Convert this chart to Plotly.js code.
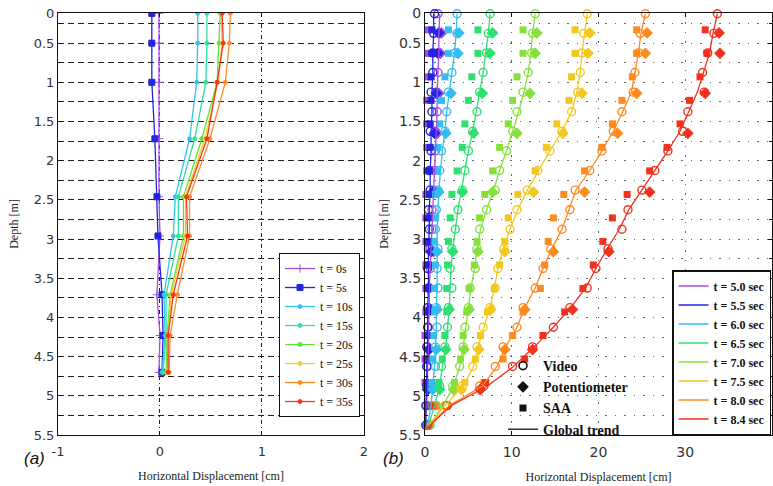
<!DOCTYPE html>
<html>
<head>
<meta charset="utf-8">
<script src="https://cdn.plot.ly/plotly-3.0.1.min.js"></script>
<style>
  html, body { margin: 0; padding: 0; background: #fff; }
  #chart { width: 773px; height: 486px; }
</style>
</head>
<body>
<div id="chart"></div>
<script>
// ---------- (a) inclinometer profiles, horizontal displacement [cm] vs depth [m] ----------
const depthA = [0.12, 0.5, 1.0, 1.72, 2.46, 2.96, 3.71, 4.23, 4.70];
const labelsA = ['t = 0s', 't = 5s', 't = 10s', 't = 15s', 't = 20s', 't = 25s', 't = 30s', 't = 35s'];
const dispA_t0  = [-0.01, -0.01, -0.01, -0.01, -0.01, 0.00, -0.03, 0.00, -0.01];
const dispA_t5  = [-0.08, -0.08, -0.08, -0.05, -0.03, -0.02, 0.02, 0.03, 0.02];
const dispA_t10 = [0.37, 0.37, 0.36, 0.29, 0.15, 0.13, 0.04, 0.05, 0.02];
const dispA_t15 = [0.46, 0.46, 0.45, 0.34, 0.18, 0.18, 0.06, 0.06, 0.03];
const dispA_t20 = [0.59, 0.58, 0.56, 0.41, 0.23, 0.23, 0.10, 0.07, 0.06];
const dispA_t25 = [0.60, 0.61, 0.57, 0.44, 0.25, 0.25, 0.11, 0.08, 0.07];
const dispA_t30 = [0.69, 0.68, 0.64, 0.49, 0.29, 0.29, 0.17, 0.10, 0.09];
const dispA_t35 = [0.61, 0.62, 0.56, 0.46, 0.26, 0.27, 0.13, 0.08, 0.08];
const ticksA = [-1, 0, 1, 2];
const tickTextA = ['-1', '0', '1', '2'];

// ---------- (b) video, potentiometer, SAA and global trend ----------
const labelsB = ['t = 5.0 sec', 't = 5.5 sec', 't = 6.0 sec', 't = 6.5 sec',
                 't = 7.0 sec', 't = 7.5 sec', 't = 8.0 sec', 't = 8.4 sec'];
const videoDepth = [0.125, 0.375, 0.625, 0.875, 1.125, 1.375, 1.625, 1.875, 2.125, 2.375, 2.625,
                    2.875, 3.125, 3.375, 3.625, 3.875, 4.125, 4.375, 4.625, 4.875, 5.125, 5.375];
const trendDepth = [0.125, 0.375, 0.625, 0.875, 1.125, 1.375, 1.625, 1.875, 2.125, 2.375, 2.625,
                    2.875, 3.125, 3.375, 3.625, 3.875, 4.125, 4.375, 4.625, 4.875, 5.125, 5.375, 5.42];
const saaDepth = [0.33, 0.63, 0.93, 1.23, 1.53, 1.83, 2.13, 2.43, 2.73, 3.03, 3.33, 3.63, 3.93,
                  4.23, 4.53, 4.83, 5.13];
const potDepth = [0.37, 0.63, 1.14, 1.65, 2.40, 3.16, 3.90, 4.41, 4.92];
const ticksB = [0, 10, 20, 30, 40];

const trend_50 = [1.7, 1.6, 1.6, 1.5, 1.4, 1.4, 1.3, 1.2, 1.1, 1.0, 0.9, 0.8, 0.7, 0.6, 0.5, 0.5, 0.4, 0.4, 0.3, 0.3, 0.2, 0.1, 0.0];
const trend_55 = [1.0, 1.0, 0.9, 0.9, 0.8, 0.8, 0.7, 0.7, 0.6, 0.6, 0.5, 0.5, 0.4, 0.4, 0.4, 0.3, 0.3, 0.3, 0.2, 0.2, 0.1, 0.1, 0.0];
const trend_60 = [3.7, 3.6, 3.4, 3.1, 2.8, 2.5, 2.3, 2.0, 1.8, 1.6, 1.5, 1.4, 1.4, 1.4, 1.4, 1.3, 1.3, 1.2, 1.1, 0.9, 0.7, 0.3, 0.1];
const trend_65 = [7.5, 7.3, 7.0, 6.7, 6.3, 5.9, 5.5, 5.0, 4.6, 4.2, 3.8, 3.5, 3.2, 3.0, 2.9, 2.8, 2.6, 2.4, 2.0, 1.7, 1.1, 0.4, 0.1];
const trend_70 = [12.7, 12.4, 12.2, 11.9, 11.4, 10.8, 10.1, 9.4, 8.6, 7.9, 7.1, 6.4, 6.0, 5.7, 5.3, 5.0, 4.7, 4.4, 4.0, 3.3, 2.1, 0.5, 0.1];
const trend_75 = [18.7, 18.4, 18.1, 17.9, 17.5, 16.9, 15.8, 14.4, 13.1, 11.8, 10.7, 9.8, 9.0, 8.4, 8.0, 7.5, 6.8, 6.1, 5.6, 4.4, 2.3, 0.5, 0.1];
const trend_80 = [25.4, 24.9, 24.6, 24.2, 23.8, 22.8, 21.7, 20.4, 19.0, 17.4, 16.6, 15.8, 14.6, 13.6, 12.7, 11.5, 10.6, 9.3, 8.3, 6.6, 2.8, 0.6, 0.1];
const trend_84 = [33.7, 33.2, 32.8, 32.1, 31.4, 30.4, 29.4, 28.0, 26.5, 25.0, 23.5, 22.4, 21.0, 19.7, 18.5, 16.8, 14.8, 12.6, 10.2, 7.2, 3.0, 0.6, 0.1];

const video_50 = [1.5, 1.7, 1.5, 1.5, 1.3, 1.4, 1.2, 1.2, 1.1, 1.0, 0.8, 0.8, 0.6, 0.6, 0.5, 0.4, 0.4, 0.3, 0.3, 0.3, 0.2, 0.1];
const video_55 = [1.1, 1.0, 0.9, 0.9, 0.7, 0.8, 0.6, 0.7, 0.5, 0.6, 0.4, 0.5, 0.4, 0.3, 0.4, 0.3, 0.3, 0.2, 0.2, 0.2, 0.1, 0.1];
const video_60 = [3.7, 3.7, 3.5, 3.1, 2.7, 2.5, 2.3, 1.9, 1.7, 1.5, 1.3, 1.2, 1.5, 1.4, 1.5, 1.3, 1.4, 1.2, 1.2, 0.9, 0.8, 0.3];
const video_65 = [7.5, 7.3, 7.1, 6.7, 6.3, 6.0, 5.5, 5.0, 4.6, 4.3, 3.8, 3.5, 3.1, 2.9, 3.1, 2.7, 2.6, 2.3, 1.9, 1.7, 1.3, 0.6];
const video_70 = [12.7, 12.4, 12.3, 11.9, 11.3, 10.6, 10.1, 9.4, 8.6, 8.1, 7.1, 6.3, 6.0, 5.8, 5.2, 5.0, 4.6, 4.4, 4.0, 3.2, 2.3, 0.5];
const video_75 = [18.7, 18.3, 18.1, 17.9, 17.6, 16.9, 15.8, 14.4, 13.0, 11.8, 10.6, 9.8, 9.1, 8.4, 8.1, 7.5, 6.7, 6.0, 5.5, 4.3, 2.4, 0.4];
const video_80 = [25.4, 24.8, 24.6, 24.2, 24.0, 22.7, 21.7, 20.4, 19.0, 17.3, 16.7, 15.8, 14.5, 13.6, 12.7, 11.3, 10.6, 9.0, 8.1, 6.3, 2.6, 0.4];
const video_84 = [33.7, 33.3, 32.6, 32.0, 32.2, 30.3, 29.7, 28.0, 26.5, 25.0, 23.4, 22.7, 21.1, 19.7, 18.7, 16.7, 14.8, 12.4, 10.1, 6.8, 2.5, 0.3];

const saa_50 = [0.3, 0.3, 0.3, 0.2, 0.2, 0.2, 0.2, 0.1, 0.1, 0.1, 0.1, 0.1, 0.1, 0.0, 0.0, 0.0, 0.3];
const saa_55 = [0.8, 0.8, 0.7, 0.7, 0.6, 0.6, 0.5, 0.5, 0.4, 0.4, 0.4, 0.3, 0.3, 0.3, 0.2, 0.2, 0.5];
const saa_60 = [2.7, 2.7, 2.3, 1.9, 1.7, 1.5, 1.4, 1.2, 1.2, 1.1, 1.2, 1.1, 1.1, 1.0, 0.9, 0.8, 1.0];
const saa_65 = [6.1, 6.1, 5.4, 5.0, 4.6, 4.3, 3.7, 3.1, 2.9, 2.7, 2.6, 2.5, 2.5, 2.3, 2.0, 1.6, 1.3];
const saa_70 = [11.3, 11.3, 10.6, 10.1, 9.6, 8.6, 7.8, 6.9, 6.3, 6.0, 5.7, 5.1, 4.8, 4.4, 4.1, 3.4, 1.2];
const saa_75 = [17.3, 17.3, 16.9, 16.6, 15.2, 14.0, 12.7, 10.7, 9.6, 9.2, 8.6, 8.0, 7.2, 6.4, 5.8, 4.6, 1.0];
const saa_80 = [24.4, 24.4, 23.9, 22.7, 21.6, 20.4, 18.4, 16.0, 14.8, 14.2, 13.8, 13.3, 11.3, 10.1, 9.0, 6.8, 1.2];
const saa_84 = [32.3, 32.5, 31.7, 30.5, 29.4, 27.9, 25.9, 23.3, 21.6, 20.5, 19.4, 18.2, 16.1, 13.6, 11.5, 7.0, 0.8];

const pot_50 = [1.9, 1.8, 1.6, 1.4, 1.2, 1.0, 0.7, 0.5, 0.3];
const pot_55 = [1.6, 1.5, 1.3, 1.1, 0.9, 0.7, 0.5, 0.4, 0.3];
const pot_60 = [3.9, 3.8, 3.0, 2.4, 1.6, 1.4, 1.4, 1.3, 0.9];
const pot_65 = [7.8, 7.5, 6.6, 5.6, 4.3, 3.2, 2.8, 2.4, 1.7];
const pot_70 = [12.9, 12.7, 12.1, 10.6, 7.8, 6.1, 5.1, 4.5, 3.3];
const pot_75 = [19.0, 18.8, 18.1, 15.9, 12.5, 9.2, 7.6, 6.2, 4.2];
const pot_80 = [25.6, 25.4, 24.4, 22.2, 18.4, 14.8, 11.5, 9.2, 6.3];
const pot_84 = [33.9, 34.0, 32.3, 30.3, 25.9, 21.2, 17.0, 12.4, 6.4];

// depth tick labels; the top edge of the frame carries the "0" label
const depthTicks = [0.115, 0.5, 1, 1.5, 2, 2.5, 3, 3.5, 4, 4.5, 5, 5.5];
const depthTickText = ['0', '0.5', '1', '1.5', '2', '2.5', '3', '3.5', '4', '4.5', '5', '5.5'];
const depthMinor = [0.25, 0.75, 1.25, 1.75, 2.25, 2.75, 3.25, 3.75, 4.25, 4.75, 5.25];

// ---------- styling ----------
const colorsA = ['#a64de6', '#2424e0', '#33c4ee', '#2fe0a0', '#5ee23a', '#f2cc2a', '#ff8a2a', '#f5361e'];
const colorsB = ['#a64de6', '#2424e0', '#33bdf0', '#2fe070', '#86e03a', '#f2c81e', '#ff8a1e', '#f0321e'];
const symbolsA = ['cross-thin-open', 'square', 'circle', 'circle', 'circle', 'circle', 'circle', 'circle'];
const sizesA = [6, 6, 4, 4, 4, 4, 4, 4];

const serif = 'Liberation Serif, Times New Roman, serif';
const sans = 'DejaVu Sans, Verdana, sans-serif';

const dispA = [dispA_t0, dispA_t5, dispA_t10, dispA_t15, dispA_t20, dispA_t25, dispA_t30, dispA_t35];
const trendB = [trend_50, trend_55, trend_60, trend_65, trend_70, trend_75, trend_80, trend_84];
const videoB = [video_50, video_55, video_60, video_65, video_70, video_75, video_80, video_84];
const saaB = [saa_50, saa_55, saa_60, saa_65, saa_70, saa_75, saa_80, saa_84];
const potB = [pot_50, pot_55, pot_60, pot_65, pot_70, pot_75, pot_80, pot_84];

const traces = [];

// (a) profiles
dispA.forEach((xs, i) => {
  traces.push({
    type: 'scatter', mode: 'lines+markers', x: xs, y: depthA,
    name: labelsA[i], legend: 'legend',
    line: { color: colorsA[i], width: 1.3 },
    marker: { color: colorsA[i], symbol: symbolsA[i], size: sizesA[i],
              line: { color: colorsA[i], width: 1 } },
    xaxis: 'x', yaxis: 'y', cliponaxis: true
  });
});

// (b) measurements, drawn underneath the trend lines
for (let i = 0; i < 8; i++) {
  traces.push({
    type: 'scatter', mode: 'markers', x: saaB[i], y: saaDepth, showlegend: false,
    marker: { color: colorsB[i], symbol: 'square', size: 7 },
    xaxis: 'x2', yaxis: 'y2', cliponaxis: false
  });
  traces.push({
    type: 'scatter', mode: 'markers', x: potB[i], y: potDepth, showlegend: false,
    marker: { color: colorsB[i], symbol: 'diamond', size: 9 },
    xaxis: 'x2', yaxis: 'y2', cliponaxis: false
  });
  traces.push({
    type: 'scatter', mode: 'markers', x: videoB[i], y: videoDepth, showlegend: false,
    marker: { color: colorsB[i], symbol: 'circle-open', size: 8,
              line: { color: colorsB[i], width: 1.4 } },
    xaxis: 'x2', yaxis: 'y2', cliponaxis: false
  });
}
for (let i = 0; i < 8; i++) {
  traces.push({
    type: 'scatter', mode: 'lines', x: trendB[i], y: trendDepth,
    name: labelsB[i], legend: 'legend2',
    line: { color: colorsB[i], width: 1.3 },
    xaxis: 'x2', yaxis: 'y2'
  });
}

// key for the measurement symbols
const keyItems = [
  { name: 'Video', mode: 'markers', marker: { symbol: 'circle-open', size: 8, color: '#111', line: { width: 1.6, color: '#111' } } },
  { name: 'Potentiometer', mode: 'markers', marker: { symbol: 'diamond', size: 9, color: '#111' } },
  { name: 'SAA', mode: 'markers', marker: { symbol: 'square', size: 7, color: '#111' } },
  { name: 'Global trend', mode: 'lines', line: { color: '#111', width: 1.3 } }
];
keyItems.forEach(k => {
  traces.push(Object.assign({ type: 'scatter', x: [null], y: [null], legend: 'legend3',
                              xaxis: 'x2', yaxis: 'y2' }, k));
});

const axisBase = {
  showline: true, linecolor: '#111', linewidth: 1, mirror: 'ticks',
  ticks: 'inside', ticklen: 4, tickcolor: '#111', zeroline: false,
  tickfont: { family: sans, size: 13, color: '#333' }
};

const layout = {
  width: 773, height: 486,
  margin: { l: 0, r: 0, t: 0, b: 0 },
  paper_bgcolor: '#fff', plot_bgcolor: '#fff',
  xaxis: Object.assign({}, axisBase, {
    domain: [0.0750, 0.4709], range: [-1, 2], tickmode: 'array', tickvals: ticksA, ticktext: tickTextA,
    showgrid: true, gridcolor: '#222', gridwidth: 1, griddash: '4px,3px,1px,3px',
    anchor: 'y', ticklabelstandoff: 4,
    title: { text: 'Horizontal Displacement [cm]', standoff: 13,
             font: { family: serif, size: 12, color: '#222' } }
  }),
  yaxis: Object.assign({}, axisBase, {
    domain: [0.1049, 0.9733], range: [5.5, 0.115], tickmode: 'array',
    tickvals: depthTicks, ticktext: depthTickText,
    showgrid: true, gridcolor: '#222', gridwidth: 1, griddash: '6px,4px',
    minor: { tickmode: 'array', tickvals: depthMinor, showgrid: true, gridcolor: '#222',
             gridwidth: 1, griddash: '6px,4px', ticks: 'inside', ticklen: 3, tickcolor: '#111' },
    anchor: 'x',
    title: { text: 'Depth [m]', standoff: 12, font: { family: serif, size: 12, color: '#222' } }
  }),
  xaxis2: Object.assign({}, axisBase, {
    domain: [0.5498, 0.9987], range: [0, 40], tickmode: 'array', tickvals: ticksB,
    showgrid: true, gridcolor: '#666', gridwidth: 1, griddash: '1.5px,8px',
    anchor: 'y2', ticklabelstandoff: 4,
    tickfont: { family: sans, size: 14, color: '#333' },
    title: { text: 'Horizontal Displacement [cm]', standoff: 13,
             font: { family: serif, size: 12, color: '#222' } }
  }),
  yaxis2: Object.assign({}, axisBase, {
    domain: [0.1049, 0.9733], range: [5.5, 0.115], tickmode: 'array',
    tickvals: depthTicks, ticktext: depthTickText,
    showgrid: true, gridcolor: '#666', gridwidth: 1, griddash: '1.5px,8px',
    minor: { tickmode: 'array', tickvals: depthMinor, showgrid: true, gridcolor: '#666',
             gridwidth: 1, griddash: '1.5px,8px', ticks: 'inside', ticklen: 3, tickcolor: '#111' },
    anchor: 'x2',
    tickfont: { family: sans, size: 14, color: '#333' },
    title: { text: 'Depth [m]', standoff: 7, font: { family: serif, size: 12, color: '#222' } }
  }),
  legend: {
    x: 0.4657, xanchor: 'right', y: 0.4794, yanchor: 'top',
    bgcolor: '#fff', bordercolor: '#111', borderwidth: 1,
    font: { family: serif, size: 12, color: '#111' }, tracegroupgap: 0
  },
  legend2: {
    x: 0.9975, xanchor: 'right', y: 0.1049, yanchor: 'bottom',
    bgcolor: '#fff', bordercolor: '#111', borderwidth: 1.5,
    font: { family: serif, size: 12, color: '#111', weight: 'bold' }, tracegroupgap: 0
  },
  legend3: {
    x: 0.6507, xanchor: 'left', y: 0.2798, yanchor: 'top',
    bgcolor: 'rgba(0,0,0,0)', borderwidth: 0,
    font: { family: serif, size: 14, color: '#111', weight: 'bold' }, tracegroupgap: 0
  },
  annotations: [
    { text: '(a)', xref: 'paper', yref: 'paper', x: 22 / 773, y: 1 - 470 / 486,
      showarrow: false, font: { family: 'Liberation Sans, Arial, sans-serif', size: 17, style: 'italic', color: '#111' } },
    { text: '(b)', xref: 'paper', yref: 'paper', x: 393 / 773, y: 1 - 470 / 486,
      showarrow: false, font: { family: 'Liberation Sans, Arial, sans-serif', size: 17, style: 'italic', color: '#111' } }
  ],
  showlegend: true
};

Plotly.newPlot('chart', traces, layout, { displayModeBar: false, staticPlot: true });
</script>
</body>
</html>
